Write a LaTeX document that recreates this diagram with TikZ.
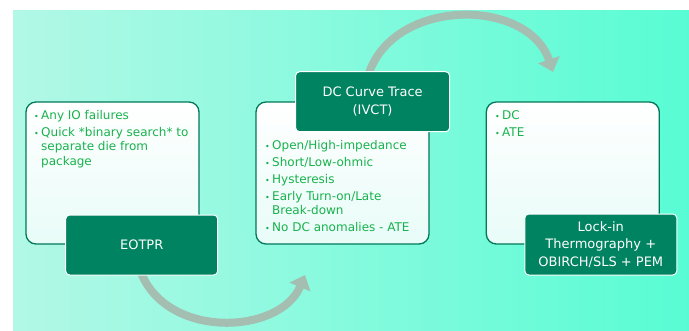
\documentclass[tikz,border=0pt]{standalone}
\usepackage{fontspec}
\setmainfont{DejaVu Sans}
\usetikzlibrary{arrows.meta}
\definecolor{bgL}{RGB}{178,248,230}
\definecolor{bgR}{RGB}{88,252,212}
\definecolor{dkgreen}{RGB}{0,131,96}
\definecolor{bordergreen}{RGB}{0,120,90}
\definecolor{bultext}{RGB}{24,178,76}
\definecolor{arrowgray}{RGB}{165,190,178}
\definecolor{boxfill}{RGB}{232,252,248}
\newcommand{\bul}{\makebox[7pt][l]{\footnotesize\textbullet}}
\newcommand{\ind}{\hspace*{7pt}}
\begin{document}
\begin{tikzpicture}[x=1pt,y=-1pt,
  bigbox/.style={draw=bordergreen, line width=1.3pt, rounded corners=10pt, top color=white, bottom color=boxfill, minimum width=173pt, minimum height=142pt, inner sep=0pt},
  titlebox/.style={draw=white, line width=1pt, fill=dkgreen, rounded corners=4pt, text=white, font=\fontsize{13}{17.5}\selectfont, align=center, inner sep=0pt},
  listtext/.style={anchor=north west, inner sep=0pt, align=left, text=bultext, font=\fontsize{12}{14.5}\selectfont},
  flow/.style={draw=arrowgray, line width=8pt, -{Triangle[width=22pt,length=13pt]}}]
\useasboundingbox (0,0) rectangle (689,330);
\shade[left color=bgL, right color=bgR] (13,10) rectangle (689,330);
% flow arrows (behind the boxes)
\coordinate (a1s) at (140,270);
\coordinate (a1e) at (305,275);
\coordinate (a2s) at (368,76);
\coordinate (a2e) at (553,72);
\draw[flow] (a1s) .. controls (165,340) and (280,335) .. (a1e);
\draw[flow] (a2s) .. controls (392,-3) and (528,-3) .. (a2e);
% content boxes
\node[bigbox] (b1) at (112.5,173) {};
\node[bigbox] (b2) at (342.5,173) {};
\node[bigbox] (b3) at (572.8,173) {};
% lists
\node[listtext] (l1) at (34,110) {\bul Any IO failures\\[2.5pt]
  \bul Quick *binary search* to\\ \ind separate die from\\ \ind package};
\node[listtext] (l2) at (265,140) {\bul Open/High-impedance\\[2.5pt]
  \bul Short/Low-ohmic\\[2.5pt] \bul Hysteresis\\[2.5pt]
  \bul Early Turn-on/Late\\ \ind Break-down\\[2.5pt] \bul No DC anomalies - ATE};
\node[listtext] (l3) at (495,110) {\bul DC\\[2.5pt] \bul ATE};
% title boxes
\node[titlebox, minimum width=152pt, minimum height=60pt] (t1) at (141.7,245) {EOTPR};
\node[titlebox, minimum width=154pt, minimum height=60pt] (t2) at (372.6,101.7) {DC Curve Trace\\(IVCT)};
\node[titlebox, minimum width=152pt, minimum height=61pt] (t3) at (600.8,244.5) {Lock-in\\Thermography +\\OBIRCH/SLS + PEM};
\end{tikzpicture}
\end{document}
